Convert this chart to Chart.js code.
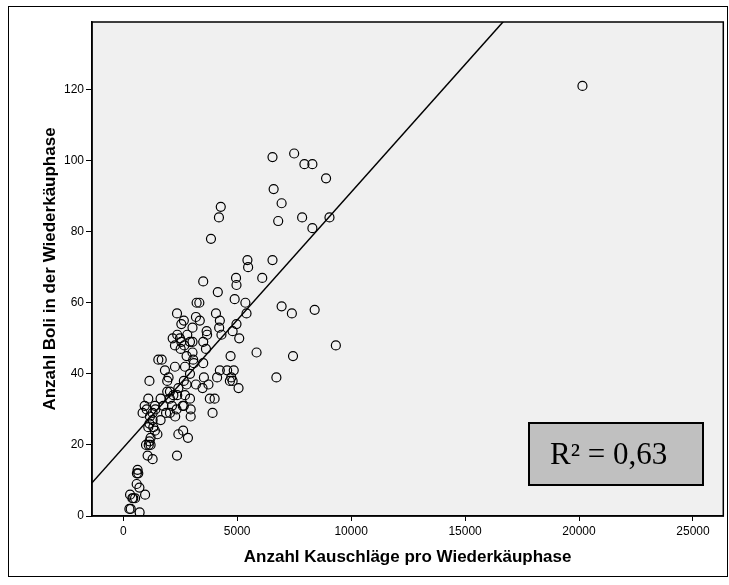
<!DOCTYPE html>
<html>
<head>
<meta charset="utf-8">
<script src="https://cdn.jsdelivr.net/npm/chart.js@4.4.1/dist/chart.umd.min.js"></script>
<style>
html, body { margin: 0; padding: 0; background: #fff; overflow: hidden; }
</style>
</head>
<body>
<canvas id="c" width="729" height="585"></canvas>
<script>
// Anzahl Kauschläge pro Wiederkäuphase (x) / Anzahl Boli (y)
const kauschlaege = [
  3510, 4970, 4150, 4890, 5360, 3220, 3340, 2360, 4070, 5410, 3190, 2660, 4240, 2550, 3360, 4970,
  4210, 3040, 3660, 4800, 2370, 2810, 3680, 4310, 2170, 2490, 5090, 3040, 2550, 3510, 2930, 2270,
  2680, 3630, 5850, 2520, 3040, 4710, 2780, 3070, 1540, 1690, 3100, 3510, 2270, 2710, 1830, 4240,
  4560, 4850, 1990, 2930, 1930, 3540, 4120, 4740, 4800, 4680, 1150, 2660, 2780, 3190, 3740, 5060,
  3480, 2420, 2050, 1930, 2200, 2370, 2710, 1100, 1640, 2050, 2930, 3800, 4010, 940, 1390, 1760,
  2610, 2660, 2140, 1030, 1410, 2960, 2340, 1880, 850, 1290, 2050, 3920, 2280, 2960, 1170, 1640,
  1290, 1150, 1320, 1100, 1390, 1500, 2420, 2630, 2840, 1200, 1150, 1000, 1120, 1200, 1070, 2360,
  1290, 630, 660, 600, 590, 710, 960, 300, 400, 520, 440, 330, 270, 720,
  6550, 7500, 7950, 8300, 8900, 6600, 6950, 4280, 4200, 7850, 9050, 6800, 8300, 3850, 5450, 6550,
  5480, 4950, 6100, 6950, 7400, 8400, 9330, 7450, 6720, 20150
];
const boli = [
  66, 65, 63, 61, 60, 60, 60, 57, 57, 57, 56, 55, 55, 54, 55, 54,
  53, 53, 52, 52, 51, 51, 51, 51, 50, 50, 50, 49, 49, 49, 49, 48,
  48, 47, 46, 47, 46, 45, 45, 44, 44, 44, 43, 43, 42, 42, 41, 41,
  41, 41, 39, 40, 38, 39, 39, 39, 38, 38, 38, 38, 37, 37, 37, 36,
  36, 36, 35, 35, 34, 34, 34, 33, 33, 33, 33, 33, 33, 31, 31, 31,
  31, 31, 31, 30, 30, 30, 30, 29, 29, 29, 29, 29, 28, 28, 28, 27,
  27, 26, 25, 25, 24, 23, 23, 24, 22, 22, 21, 20, 20, 20, 17, 17,
  16, 13, 12, 12, 9, 8, 6, 6, 5, 5, 5, 2, 2, 1,
  101, 102, 99, 99, 95, 92, 88, 87, 84, 84, 84, 83, 81, 78, 72, 72,
  70, 67, 67, 59, 57, 58, 48, 45, 39, 121
];
const xTicks = [0, 5000, 10000, 15000, 20000, 25000];
const yTicks = [0, 20, 40, 60, 80, 100, 120];
const xRange = [-1370, 26330];
const yRange = [0, 139];
// linear fit line
const fitIntercept = 19.2;
const fitSlope = 0.00719;
const rSquaredText = 'R² = 0,63';

const points = kauschlaege.map((x, i) => ({x: x, y: boli[i]}));
const fitLine = xRange.map(x => ({x: x, y: fitIntercept + fitSlope * x}));

const framePlugin = {
  id: 'frame',
  beforeDraw(chart) {
    const ctx = chart.ctx, a = chart.chartArea;
    ctx.save();
    ctx.fillStyle = '#fff';
    ctx.fillRect(0, 0, chart.width, chart.height);
    ctx.strokeStyle = '#000';
    ctx.lineWidth = 1;
    ctx.strokeRect(8.5, 6.5, 719, 570);
    ctx.fillStyle = '#f0f0f0';
    ctx.fillRect(a.left, a.top, a.right - a.left, a.bottom - a.top);
    ctx.restore();
  },
  afterDatasetsDraw(chart) {
    const ctx = chart.ctx, a = chart.chartArea;
    ctx.save();
    ctx.strokeStyle = '#000';
    ctx.lineWidth = 1.5;
    ctx.strokeRect(a.left, a.top, a.right - a.left, a.bottom - a.top);
    // R² box
    ctx.fillStyle = '#c0c0c0';
    ctx.fillRect(529, 423, 174, 62);
    ctx.lineWidth = 2;
    ctx.strokeRect(529, 423, 174, 62);
    ctx.fillStyle = '#000';
    ctx.font = '31px "Liberation Serif", "Times New Roman", serif';
    ctx.textBaseline = 'alphabetic';
    ctx.fillText(rSquaredText, 550, 464);
    ctx.restore();
  }
};

const axisFont = {family: '"Liberation Sans", Arial, sans-serif', size: 12};
const titleFont = {family: '"Liberation Sans", Arial, sans-serif', size: 17, weight: 'bold'};

new Chart(document.getElementById('c'), {
  type: 'scatter',
  data: {
    datasets: [{
      data: points,
      pointStyle: 'circle',
      pointRadius: 4.5,
      backgroundColor: 'rgba(0,0,0,0)',
      borderColor: '#000',
      borderWidth: 1.2
    }, {
      type: 'line',
      data: fitLine,
      borderColor: '#000',
      borderWidth: 1.5,
      pointRadius: 0,
      fill: false
    }]
  },
  options: {
    responsive: false,
    animation: false,
    layout: {padding: {left: 0, right: 4, top: 22, bottom: 0}},
    plugins: {legend: {display: false}, tooltip: {enabled: false}},
    scales: {
      x: {
        type: 'linear',
        min: xRange[0],
        max: xRange[1],
        afterBuildTicks: s => { s.ticks = xTicks.map(v => ({value: v})); },
        afterFit: s => { s.height = 69; },
        ticks: {font: axisFont, color: '#000', padding: 3, callback: v => String(v)},
        grid: {drawOnChartArea: false, drawTicks: true, tickLength: 5, color: '#000'},
        border: {display: true, color: '#000', width: 1.5},
        title: {display: true, text: 'Anzahl Kauschläge pro Wiederkäuphase', font: titleFont, color: '#000', padding: {top: 0, bottom: 17}}
      },
      y: {
        type: 'linear',
        min: yRange[0],
        max: yRange[1],
        afterBuildTicks: s => { s.ticks = yTicks.map(v => ({value: v})); },
        afterFit: s => { s.width = 92; },
        ticks: {font: axisFont, color: '#000', padding: 2, callback: v => String(v)},
        grid: {drawOnChartArea: false, drawTicks: true, tickLength: 6, color: '#000'},
        border: {display: true, color: '#000', width: 1.5},
        title: {display: true, text: 'Anzahl Boli in der Wiederkäuphase', font: titleFont, color: '#000', padding: {top: 40, bottom: 0}}
      }
    }
  },
  plugins: [framePlugin]
});
</script>
</body>
</html>
